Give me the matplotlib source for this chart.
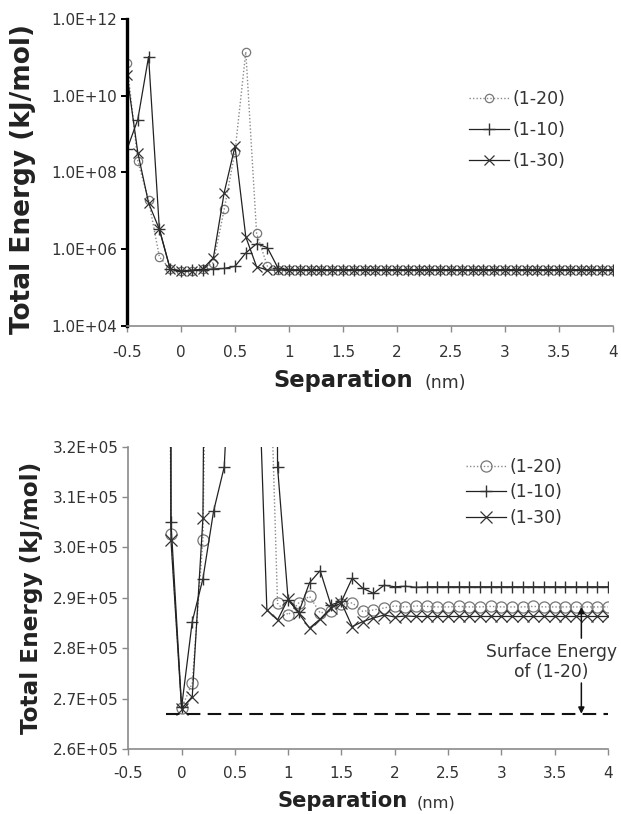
import matplotlib
matplotlib.use("Agg")
import matplotlib.pyplot as plt
from matplotlib.ticker import FixedLocator, FuncFormatter, NullLocator

# Separation (nm) at which the total energy was computed
separation = [-0.5, -0.4, -0.3, -0.2, -0.1, 0.0, 0.1, 0.2, 0.3, 0.4,
              0.5, 0.6, 0.7, 0.8, 0.9, 1.0, 1.1, 1.2, 1.3, 1.4,
              1.5, 1.6, 1.7, 1.8, 1.9, 2.0, 2.1, 2.2, 2.3, 2.4,
              2.5, 2.6, 2.7, 2.8, 2.9, 3.0, 3.1, 3.2, 3.3, 3.4,
              3.5, 3.6, 3.7, 3.8, 3.9, 4.0]

# Total energy (kJ/mol) for each interface
energy_1_20 = [7.0e10, 2.0e8, 1.9e7, 6.3e5, 3.026e5, 2.681e5, 2.731e5, 3.015e5, 4.5e5, 1.1e7,
               3.5e8, 1.4e11, 2.6e6, 3.6e5, 2.889e5, 2.866e5, 2.890e5, 2.903e5, 2.870e5, 2.874e5,
               2.887e5, 2.890e5, 2.873e5, 2.876e5, 2.880e5, 2.884e5, 2.882e5, 2.884e5, 2.883e5, 2.882e5,
               2.882e5, 2.883e5, 2.882e5, 2.882e5, 2.883e5, 2.882e5, 2.882e5, 2.882e5, 2.883e5, 2.882e5,
               2.882e5, 2.882e5, 2.882e5, 2.882e5, 2.882e5, 2.882e5]
energy_1_10 = [4.0e8, 2.4e9, 1.05e11, 3.3e6, 3.051e5, 2.683e5, 2.853e5, 2.938e5, 3.072e5, 3.160e5,
               3.6e5, 8.0e5, 1.4e6, 1.1e6, 3.160e5, 2.895e5, 2.872e5, 2.930e5, 2.954e5, 2.886e5,
               2.893e5, 2.939e5, 2.919e5, 2.909e5, 2.925e5, 2.922e5, 2.923e5, 2.921e5, 2.922e5, 2.922e5,
               2.922e5, 2.922e5, 2.922e5, 2.922e5, 2.922e5, 2.922e5, 2.922e5, 2.922e5, 2.922e5, 2.922e5,
               2.922e5, 2.922e5, 2.922e5, 2.922e5, 2.922e5, 2.922e5]
energy_1_30 = [3.5e10, 3.3e8, 1.6e7, 3.3e6, 3.015e5, 2.680e5, 2.704e5, 3.058e5, 6.0e5, 3.0e7,
               4.8e8, 2.1e6, 3.5e5, 2.876e5, 2.856e5, 2.898e5, 2.869e5, 2.840e5, 2.858e5, 2.880e5,
               2.890e5, 2.843e5, 2.853e5, 2.860e5, 2.866e5, 2.862e5, 2.864e5, 2.863e5, 2.863e5, 2.863e5,
               2.863e5, 2.863e5, 2.863e5, 2.863e5, 2.863e5, 2.863e5, 2.863e5, 2.863e5, 2.863e5, 2.863e5,
               2.863e5, 2.863e5, 2.863e5, 2.863e5, 2.863e5, 2.863e5]

series_labels = ["(1-20)", "(1-10)", "(1-30)"]

surface_energy_1_20 = 2.67e5
surface_line_start = -0.15
arrow_x = 3.75

x_ticks = [-0.5, 0, 0.5, 1, 1.5, 2, 2.5, 3, 3.5, 4]
top_y_ticks = [1e4, 1e6, 1e8, 1e10, 1e12]
bottom_y_ticks = [2.6e5, 2.7e5, 2.8e5, 2.9e5, 3.0e5, 3.1e5, 3.2e5]

W, H = 621, 814
TXT = "#333333"
GREY = "#8a8a8a"

plt.rcParams["font.family"] = ["DejaVu Sans"]
fig = plt.figure(figsize=(W / 100, H / 100), dpi=100)


def axes_px(left, top, right, bottom):
    return fig.add_axes([left / W, 1 - bottom / H, (right - left) / W, (bottom - top) / H])


def draw_series(ax, ms_circle, ms_plus, ms_x):
    ax.plot(separation, energy_1_20, linestyle=(0, (1, 1.5)), color=GREY, lw=1.0,
            marker="o", ms=ms_circle, mfc="none", mec="#777777", mew=0.9,
            label=series_labels[0])
    ax.plot(separation, energy_1_10, linestyle="-", color="#222222", lw=0.9,
            marker="+", ms=ms_plus, mec="#333333", mew=1.0,
            label=series_labels[1])
    ax.plot(separation, energy_1_30, linestyle="-", color="#222222", lw=0.9,
            marker="x", ms=ms_x, mec="#333333", mew=0.9,
            label=series_labels[2])


def sci_fmt(v, pos):
    return f"{v:.1E}"


def style_x(ax, pad):
    ax.set_xlim(-0.5, 4.0)
    ax.xaxis.set_major_locator(FixedLocator(x_ticks))
    ax.xaxis.set_major_formatter(FuncFormatter(lambda v, p: f"{v:g}"))
    ax.spines["top"].set_visible(False)
    ax.spines["right"].set_visible(False)
    ax.spines["bottom"].set_color(GREY)
    ax.spines["bottom"].set_linewidth(1.2)
    ax.tick_params(axis="x", direction="out", length=4, width=1.0, color=GREY,
                   labelsize=11, labelcolor=TXT, pad=pad)


# ---- upper panel: log scale overview ----
ax1 = axes_px(127, 19, 613, 326)
draw_series(ax1, 6.0, 8.0, 6.5)
ax1.set_yscale("log")
ax1.set_ylim(1e4, 1e12)
ax1.yaxis.set_major_locator(FixedLocator(top_y_ticks))
ax1.yaxis.set_minor_locator(NullLocator())
ax1.yaxis.set_major_formatter(FuncFormatter(sci_fmt))
style_x(ax1, 10)
ax1.spines["left"].set_color("black")
ax1.spines["left"].set_linewidth(2.4)
ax1.tick_params(axis="y", direction="out", length=4, width=1.4, color="black",
                labelsize=11, labelcolor=TXT, pad=3)
leg1 = ax1.legend(loc="upper left", bbox_to_anchor=(0.69, 0.79), frameon=False,
                  fontsize=12.5, handlelength=2.3, handletextpad=0.2, labelspacing=0.75,
                  borderaxespad=0)
for t in leg1.get_texts():
    t.set_color(TXT)

# ---- lower panel: linear zoom near the minimum ----
ax2 = axes_px(128.3, 446.7, 608, 749)
draw_series(ax2, 8.0, 9.0, 8.0)
ax2.set_ylim(2.6e5, 3.2e5)
ax2.yaxis.set_major_locator(FixedLocator(bottom_y_ticks))
ax2.yaxis.set_major_formatter(FuncFormatter(sci_fmt))
style_x(ax2, 8)
ax2.spines["left"].set_color(GREY)
ax2.spines["left"].set_linewidth(1.2)
ax2.tick_params(axis="y", direction="out", length=4, width=1.0, color=GREY,
                labelsize=11, labelcolor=TXT, pad=3)
ax2.hlines(surface_energy_1_20, surface_line_start, 4.0, colors="#111111",
           linestyles=(0, (6.5, 3.5)), lw=1.5)
leg2 = ax2.legend(loc="upper left", bbox_to_anchor=(0.69, 0.985), frameon=False,
                  fontsize=12.5, handlelength=2.3, handletextpad=0.2, labelspacing=0.42,
                  borderaxespad=0)
for t in leg2.get_texts():
    t.set_color(TXT)

ax2.text(3.47, 2.773e5, "Surface Energy\nof (1-20)", ha="center", va="center",
         fontsize=12.3, color=TXT, linespacing=1.1, clip_on=False)
arrow_style = dict(arrowstyle="-|>", color="#111111", lw=1.1, mutation_scale=9,
                   shrinkA=0, shrinkB=0)
ax2.annotate("", xy=(arrow_x, energy_1_20[-1]), xytext=(arrow_x, 2.82e5),
             arrowprops=arrow_style)
ax2.annotate("", xy=(arrow_x, surface_energy_1_20), xytext=(arrow_x, 2.731e5),
             arrowprops=arrow_style)

# ---- axis titles ----
fig.text(23 / W, 1 - 179 / H, "Total Energy (kJ/mol)", rotation=90, ha="center",
         va="center", fontsize=19, fontweight="bold", color="#222222")
fig.text(32 / W, 1 - 598 / H, "Total Energy (kJ/mol)", rotation=90, ha="center",
         va="center", fontsize=16.7, fontweight="bold", color="#222222")

fig.text(413 / W, 1 - 381 / H, "Separation", ha="right", va="center",
         fontsize=16.3, fontweight="bold", color="#222222")
fig.text(424 / W, 1 - 383 / H, "(nm)", ha="left", va="center",
         fontsize=12.5, color=TXT)
fig.text(408 / W, 1 - 801 / H, "Separation", ha="right", va="center",
         fontsize=15.2, fontweight="bold", color="#222222")
fig.text(417 / W, 1 - 803 / H, "(nm)", ha="left", va="center",
         fontsize=11.7, color=TXT)

fig.savefig("out.png", dpi=100)
